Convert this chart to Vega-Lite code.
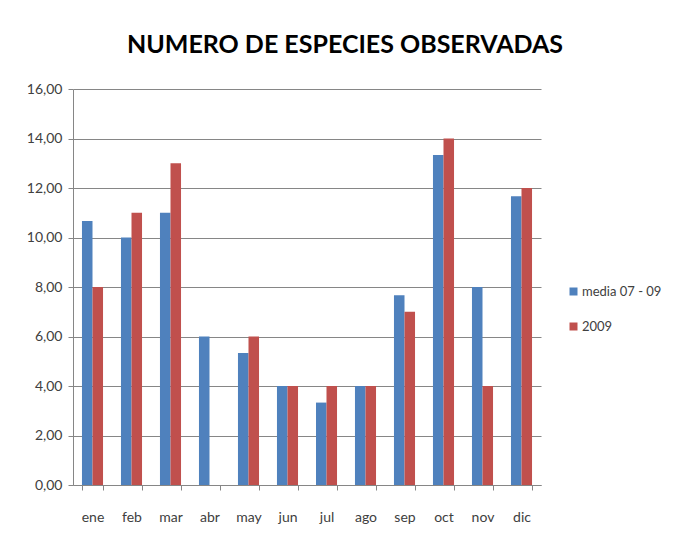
{
  "$schema": "https://vega.github.io/schema/vega-lite/v6.json",
  "autosize": "none",
  "width": 468,
  "height": 396,
  "padding": {"left": 73, "top": 89, "right": 134, "bottom": 57},
  "background": "white",
  "title": {
    "text": "NUMERO DE ESPECIES OBSERVADAS",
    "font": "Lato",
    "fontSize": 25,
    "fontWeight": "bold",
    "color": "#000000",
    "anchor": "middle",
    "dx": 38,
    "offset": 24
  },
  "data": {
    "values": [
      {"mes": "ene", "serie": "media 07 - 09", "valor": 10.67},
      {"mes": "ene", "serie": "2009", "valor": 8},
      {"mes": "feb", "serie": "media 07 - 09", "valor": 10},
      {"mes": "feb", "serie": "2009", "valor": 11},
      {"mes": "mar", "serie": "media 07 - 09", "valor": 11},
      {"mes": "mar", "serie": "2009", "valor": 13},
      {"mes": "abr", "serie": "media 07 - 09", "valor": 6},
      {"mes": "abr", "serie": "2009", "valor": 0},
      {"mes": "may", "serie": "media 07 - 09", "valor": 5.33},
      {"mes": "may", "serie": "2009", "valor": 6},
      {"mes": "jun", "serie": "media 07 - 09", "valor": 4},
      {"mes": "jun", "serie": "2009", "valor": 4},
      {"mes": "jul", "serie": "media 07 - 09", "valor": 3.33},
      {"mes": "jul", "serie": "2009", "valor": 4},
      {"mes": "ago", "serie": "media 07 - 09", "valor": 4},
      {"mes": "ago", "serie": "2009", "valor": 4},
      {"mes": "sep", "serie": "media 07 - 09", "valor": 7.67},
      {"mes": "sep", "serie": "2009", "valor": 7},
      {"mes": "oct", "serie": "media 07 - 09", "valor": 13.33},
      {"mes": "oct", "serie": "2009", "valor": 14},
      {"mes": "nov", "serie": "media 07 - 09", "valor": 8},
      {"mes": "nov", "serie": "2009", "valor": 4},
      {"mes": "dic", "serie": "media 07 - 09", "valor": 11.67},
      {"mes": "dic", "serie": "2009", "valor": 12}
    ]
  },
  "mark": {"type": "bar"},
  "encoding": {
    "x": {
      "field": "mes",
      "type": "nominal",
      "sort": ["ene","feb","mar","abr","may","jun","jul","ago","sep","oct","nov","dic"],
      "scale": {"paddingInner": 0.46, "paddingOuter": 0.23},
      "axis": {
        "title": null,
        "labelAngle": 0,
        "tickBand": "extent",
        "labelFont": "Lato",
        "labelFontSize": 14,
        "labelColor": "#404040",
        "labelPadding": 20,
        "tickSize": 5,
        "tickColor": "#868686",
        "domainColor": "#868686",
        "grid": false
      }
    },
    "xOffset": {
      "field": "serie",
      "type": "nominal",
      "sort": ["media 07 - 09", "2009"]
    },
    "y": {
      "field": "valor",
      "type": "quantitative",
      "scale": {"domain": [0, 16], "nice": false},
      "axis": {
        "title": null,
        "values": [0,2,4,6,8,10,12,14,16],
        "labelExpr": "replace(format(datum.value, '.2f'), '.', ',')",
        "labelFont": "Lato",
        "labelFontSize": 14,
        "labelColor": "#404040",
        "labelPadding": 6,
        "tickSize": 5,
        "tickColor": "#868686",
        "domainColor": "#868686",
        "grid": true,
        "gridColor": "#868686",
        "gridWidth": 1
      }
    },
    "color": {
      "field": "serie",
      "type": "nominal",
      "sort": ["media 07 - 09", "2009"],
      "scale": {"domain": ["media 07 - 09", "2009"], "range": ["#4F81BD", "#C0504D"]},
      "legend": {
        "title": null,
        "orient": "none",
        "legendX": 494,
        "legendY": 196,
        "symbolType": "square",
        "symbolSize": 64,
        "symbolStrokeWidth": 0,
        "labelFont": "Lato",
        "labelFontSize": 13,
        "labelColor": "#404040",
        "labelOffset": 2,
        "rowPadding": 21
      }
    }
  },
  "config": {
    "view": {"stroke": null},
    "axis": {"domainWidth": 1, "tickWidth": 1}
  }
}
